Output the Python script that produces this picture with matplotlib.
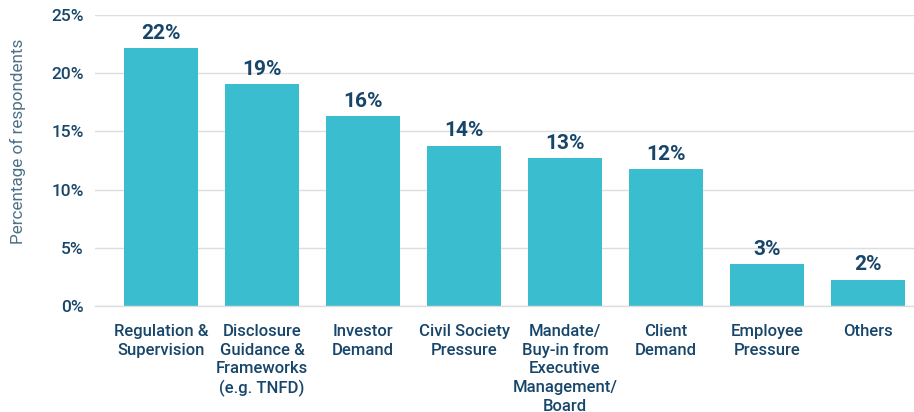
import matplotlib.pyplot as plt
from matplotlib.ticker import FuncFormatter

plt.rcParams["font.family"] = ["Roboto", "DejaVu Sans"]

# 数据
categories = [
    "Regulation &\nSupervision",
    "Disclosure\nGuidance &\nFrameworks\n(e.g. TNFD)",
    "Investor\nDemand",
    "Civil Society\nPressure",
    "Mandate/\nBuy-in from\nExecutive\nManagement/\nBoard",
    "Client\nDemand",
    "Employee\nPressure",
    "Others",
]
values = [22.15, 19.05, 16.3, 13.75, 12.7, 11.75, 3.6, 2.25]
value_labels = ["22%", "19%", "16%", "14%", "13%", "12%", "3%", "2%"]
y_ticks = [0, 5, 10, 15, 20, 25]

bar_color = "#3BBDD0"
text_color = "#17466A"
grid_color = "#DDDDDD"

fig = plt.figure(figsize=(9.14, 4.12), dpi=100)
ax = fig.add_axes([0.104, 0.257, 0.896, 0.7067])

x = list(range(len(categories)))
bars = ax.bar(x, values, width=0.73, color=bar_color, zorder=2)

# 柱顶数值
for b, lab in zip(bars, value_labels):
    ax.annotate(lab, (b.get_x() + b.get_width() / 2, b.get_height()),
                xytext=(0, 4), textcoords="offset points",
                ha="center", va="bottom", fontsize=15, fontweight="bold",
                color=text_color)

ax.set_xlim(-0.653, 7.455)
ax.set_ylim(0, 25)
ax.set_yticks(y_ticks)
ax.yaxis.set_major_formatter(FuncFormatter(lambda v, p: f"{v:.0f}%"))
ax.set_xticks(x)
ax.set_xticklabels(categories, fontsize=12, fontweight="medium",
                   color=text_color, linespacing=1.3, va="top")
for lab in ax.get_yticklabels():
    lab.set_fontsize(12.5)
    lab.set_fontweight("medium")
    lab.set_color(text_color)

ax.tick_params(axis="both", length=0)
ax.tick_params(axis="x", pad=13)
ax.tick_params(axis="y", pad=8)
ax.grid(axis="y", color=grid_color, linewidth=1, zorder=0)
for s in ["top", "right", "left"]:
    ax.spines[s].set_visible(False)
ax.spines["bottom"].set_color(grid_color)
ax.spines["bottom"].set_linewidth(1)

fig.text(18 / 914, 1 - 141 / 412, "Percentage of respondents", rotation=90,
         ha="center", va="center", fontsize=12.3, color="#4E7187")

fig.savefig("out.png", dpi=100)
